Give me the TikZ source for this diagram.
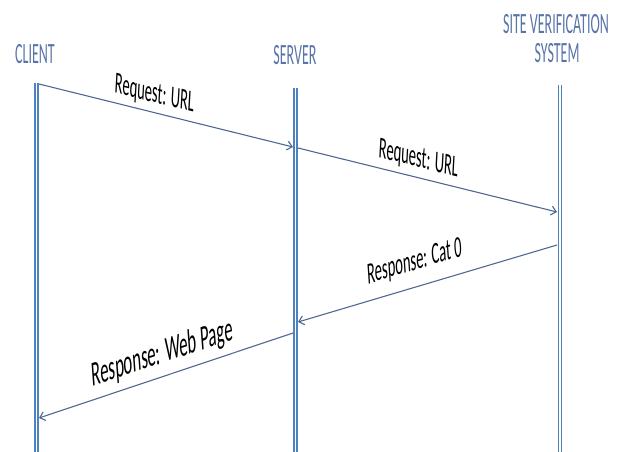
\documentclass[tikz,border=0pt]{standalone}
\usepackage{fontspec}
\setmainfont{Carlito}
\usetikzlibrary{arrows.meta}
\definecolor{lifeblue}{RGB}{79,129,189}
\definecolor{headblue}{RGB}{88,116,168}
\definecolor{msgline}{RGB}{80,104,145}
\begin{document}
\begin{tikzpicture}[x=1pt,y=-1pt,
  lifeline/.style={draw=lifeblue, line width=1.7pt, double=white, double distance=1.4pt},
  header/.style={inner sep=0pt, text=headblue, font=\fontsize{14}{16}\selectfont, yscale=2.1, align=center},
  msg/.style={draw=msgline, line width=1.1pt, -{Straight Barb[length=5pt,width=9pt]}},
  msglabel/.style={inner sep=0pt, anchor=base, font=\fontsize{14.6}{16}\selectfont, yscale=2.1}]
\useasboundingbox (0,0) rectangle (625,451);
% headers
\node[header] (hclient) at (35,54) {CLIENT};
\node[header] (hserver) at (295,55) {SERVER};
\node[header] (hsite1) at (556,24) {SITE VERIFICATION};
\node[header] (hsite2) at (557,53) {SYSTEM};
% lifeline ends
\coordinate (ct) at (36.5,83);
\coordinate (cb) at (36.5,452);
\coordinate (st) at (295.5,88);
\coordinate (sb) at (295.5,452);
\coordinate (vt) at (560,85);
\coordinate (vb) at (560,452);
\draw[lifeline] (ct) -- (cb);
\draw[lifeline] (st) -- (sb);
\draw[lifeline] (vt) -- (vb);
% message points
\coordinate (m1a) at (39,84);
\coordinate (m1b) at (293,147);
\coordinate (m2a) at (298,148);
\coordinate (m2b) at (557,212);
\coordinate (m3a) at (557,245);
\coordinate (m3b) at (298,322);
\coordinate (m4a) at (293,333);
\coordinate (m4b) at (39,418);
\draw[msg] (m1a) -- (m1b);
\draw[msg] (m2a) -- (m2b);
\draw[msg] (m3a) -- (m3b);
\draw[msg] (m4a) -- (m4b);
% labels
\node[msglabel, rotate=-6.66] (l1) at (154,102.5) {Request: URL};
\node[msglabel, rotate=-6.73] (l2) at (418,167) {Request: URL};
\node[msglabel, rotate=8.12] (l3) at (415,270) {Response: Cat 0};
\node[msglabel, rotate=9.0, font=\fontsize{16.8}{18}\selectfont] (l4) at (163,363) {Response: Web Page};
\end{tikzpicture}
\end{document}
